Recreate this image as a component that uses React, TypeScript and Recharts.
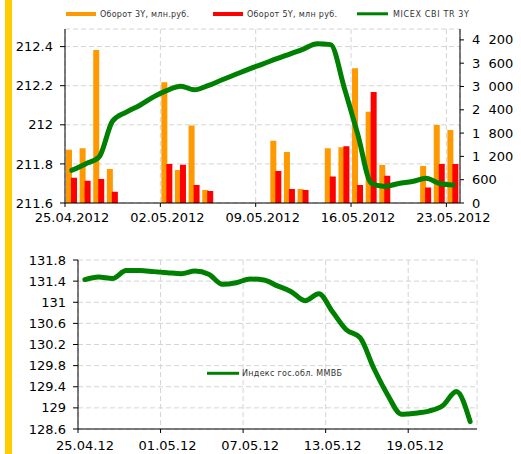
import React from 'react';
import { ComposedChart, LineChart, Bar, Line, XAxis, YAxis, CartesianGrid } from 'recharts';

// Calendar days (categories) 25.04.2012 .. 23.05.2012
const dates = [
  '25.04.2012', '26.04.2012', '27.04.2012', '28.04.2012', '29.04.2012', '30.04.2012', '01.05.2012',
  '02.05.2012', '03.05.2012', '04.05.2012', '05.05.2012', '06.05.2012', '07.05.2012', '08.05.2012',
  '09.05.2012', '10.05.2012', '11.05.2012', '12.05.2012', '13.05.2012', '14.05.2012', '15.05.2012',
  '16.05.2012', '17.05.2012', '18.05.2012', '19.05.2012', '20.05.2012', '21.05.2012', '22.05.2012',
  '23.05.2012',
];

// Turnover, mln rub (right axis)
const turnover3Y = [
  1370, 1410, 3940, 875, null, null, null,
  3110, 850, 1995, 335, null, null, null,
  null, 1600, 1315, 360, null, 1410, 1435,
  3470, 2350, 980, null, null, 955, 2010,
  1880,
];
const turnover5Y = [
  650, 575, 620, 290, null, null, null,
  1005, 985, 465, 310, null, null, null,
  null, 825, 360, 335, null, 680, 1460,
  465, 2860, 700, null, null, 400, 1005,
  1005,
];

// MICEX CBI TR 3Y (left axis)
const micexCbiTr3Y = [
  211.767, 211.8, 211.835, 212.02, 212.065, 212.1, 212.143,
  212.176, 212.197, 212.179, 212.2, 212.229, 212.257, 212.285,
  212.31, 212.337, 212.362, 212.387, 212.415, 212.41, 212.19,
  211.95, 211.7, 211.685, 211.7, 211.71, 211.726, 211.7,
  211.692,
];

// Индекс гос.обл. ММВБ
const mmvbIndex = [
  131.43, 131.48, 131.45, 131.6, 131.6, 131.58, 131.56,
  131.54, 131.59, 131.53, 131.34, 131.37, 131.44, 131.42,
  131.31, 131.2, 131.03, 131.16, 130.82, 130.48, 130.33,
  129.75, 129.25, 128.88, 128.9, 128.94, 129.04, 129.31,
  128.74,
];

const topXTicks = [0, 7, 14, 21, 28];
const bottomXTicks = [0, 6, 12, 18, 24];
const leftTicks = [211.6, 211.8, 212, 212.2, 212.4];
const rightTicks = [0, 600, 1200, 1800, 2400, 3000, 3600, 4200];
const mmvbTicks = [128.6, 129, 129.4, 129.8, 130.2, 130.6, 131, 131.4, 131.8];

const legendTop = ['Оборот  3Y,  млн.руб.', 'Оборот 5Y, млн руб.', 'MICEX CBI TR 3Y'];
const legendBottom = 'Индекс  гос.обл.  ММВБ';

const topData = dates.map((date, i) => ({
  x: i + 0.5,
  date,
  t3: turnover3Y[i],
  t5: turnover5Y[i],
  micex: micexCbiTr3Y[i],
}));

const bottomData = dates.map((date, i) => ({
  x: i + 0.5,
  date,
  mmvb: mmvbIndex[i],
}));

const FONT = 'DejaVu Sans, Verdana, sans-serif';
const GRID = '#d4d4d4';
const ORANGE = '#FF9900';
const RED = '#FF0000';
const GREEN = '#008000';

const fmtThousands = (v: number) => {
  if (v >= 1000) {
    const th = Math.floor(v / 1000);
    const rest = String(v % 1000).padStart(3, '0');
    return `${th}\u2007${rest}`;
  }
  return String(v);
};

const shortDate = (d: string) => d.slice(0, 6) + d.slice(8);

export default function App() {
  const tickStyle = { fill: '#000', fontSize: 13, fontFamily: FONT };
  return (
    <div
      style={{
        position: 'absolute',
        left: 0,
        top: 0,
        width: 521,
        height: 454,
        background: '#fff',
        fontFamily: FONT,
        overflow: 'hidden',
      }}
    >
      <div style={{ position: 'absolute', left: 5, top: 0, width: 7, height: 454, background: '#FFCC00' }} />

      <div style={{ position: 'absolute', left: 0, top: 0 }}>
        <ComposedChart
          width={521}
          height={230}
          data={topData}
          margin={{ top: 29, right: 0, bottom: 7, left: 5 }}
          barGap={-1}
        >
          <CartesianGrid yAxisId="left" stroke={GRID} strokeDasharray="5 3" />
          <XAxis
            type="number"
            dataKey="x"
            domain={[0, 29]}
            ticks={topXTicks}
            interval={0}
            tickFormatter={(v: number) => dates[v]}
            height={20}
            tickSize={4}
            tickMargin={6}
            axisLine={{ stroke: '#000' }}
            tickLine={{ stroke: '#000' }}
            tick={{ ...tickStyle, dx: 7 }}
          />
          <YAxis
            yAxisId="left"
            orientation="left"
            width={60}
            domain={[211.6, 212.49]}
            ticks={leftTicks}
            interval={0}
            allowDataOverflow
            tickSize={5}
            tickMargin={7}
            axisLine={{ stroke: '#000' }}
            tickLine={{ stroke: '#000' }}
            tick={tickStyle}
          />
          <YAxis
            yAxisId="right"
            orientation="right"
            width={61}
            domain={[0, 4480]}
            ticks={rightTicks}
            interval={0}
            allowDataOverflow
            tickFormatter={fmtThousands}
            tickSize={4}
            tickMargin={8}
            axisLine={{ stroke: '#000' }}
            tickLine={{ stroke: '#000' }}
            tick={tickStyle}
          />
          <Bar yAxisId="right" dataKey="t3" name={legendTop[0]} fill={ORANGE} barSize={6} isAnimationActive={false} />
          <Bar yAxisId="right" dataKey="t5" name={legendTop[1]} fill={RED} barSize={6} isAnimationActive={false} />
          <Line
            yAxisId="left"
            dataKey="micex"
            name={legendTop[2]}
            type="monotone"
            stroke={GREEN}
            strokeWidth={5}
            strokeLinecap="round"
            strokeLinejoin="round"
            dot={false}
            activeDot={false}
            isAnimationActive={false}
          />
        </ComposedChart>
      </div>

      <div style={{ position: 'absolute', left: 0, top: 230 }}>
        <LineChart width={521} height={224} data={bottomData} margin={{ top: 30, right: 44, bottom: 5, left: 8 }}>
          <CartesianGrid stroke={GRID} strokeDasharray="5 3" />
          <XAxis
            type="number"
            dataKey="x"
            domain={[0, 29]}
            ticks={bottomXTicks}
            interval={0}
            tickFormatter={(v: number) => shortDate(dates[v])}
            height={20}
            tickSize={4}
            tickMargin={8}
            axisLine={{ stroke: '#000' }}
            tickLine={{ stroke: '#000' }}
            tick={{ ...tickStyle, dx: 7 }}
          />
          <YAxis
            width={70}
            domain={[128.6, 131.8]}
            ticks={mmvbTicks}
            interval={0}
            allowDataOverflow
            tickSize={5}
            tickMargin={7}
            axisLine={{ stroke: '#000' }}
            tickLine={{ stroke: '#000' }}
            tick={tickStyle}
          />
          <Line
            dataKey="mmvb"
            name={legendBottom}
            type="monotone"
            stroke={GREEN}
            strokeWidth={5}
            strokeLinecap="round"
            strokeLinejoin="round"
            dot={false}
            activeDot={false}
            isAnimationActive={false}
          />
        </LineChart>
      </div>

      <svg
        width={521}
        height={454}
        style={{ position: 'absolute', left: 0, top: 0, pointerEvents: 'none' }}
      >
        <g fontFamily={FONT} fontSize={8} fill="#333" style={{ whiteSpace: 'pre' }}>
          <rect x={66} y={12} width={30} height={4} fill={ORANGE} />
          <text x={100} y={17} textLength={89} lengthAdjust="spacing">{legendTop[0]}</text>
          <rect x={213} y={12} width={30} height={4} fill={RED} />
          <text x={247} y={17} textLength={90} lengthAdjust="spacing">{legendTop[1]}</text>
          <line x1={357} x2={388} y1={13.8} y2={13.8} stroke={GREEN} strokeWidth={3} />
          <text x={393} y={17} textLength={76} lengthAdjust="spacing">{legendTop[2]}</text>
          <line x1={207} x2={239} y1={373.3} y2={373.3} stroke={GREEN} strokeWidth={3} />
          <text x={242} y={376} textLength={100} lengthAdjust="spacing">{legendBottom}</text>
        </g>
      </svg>
    </div>
  );
}
